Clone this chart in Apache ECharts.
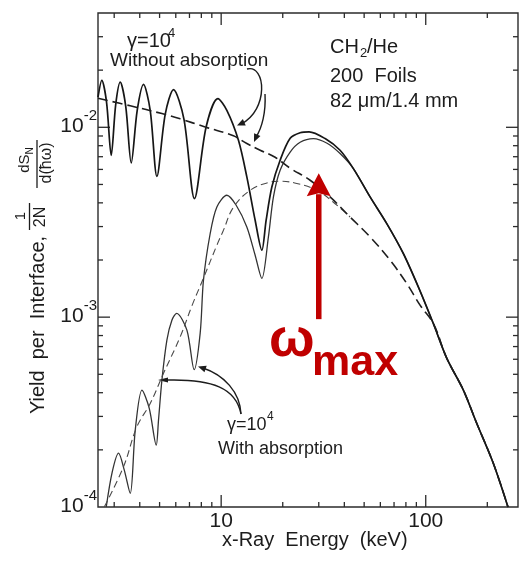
<!DOCTYPE html>
<html>
<head>
<meta charset="utf-8">
<script src="https://cdn.jsdelivr.net/npm/echarts@6/dist/echarts.min.js"></script>
<style>
html, body { margin: 0; padding: 0; background: #fff; }
#chart { width: 519px; height: 566px; }
</style>
</head>
<body>
<div id="chart"></div>
<script>
// Axis limits: x-ray energy (keV) and yield per interface
const energyMin = 2.5, energyMax = 282.5;
const yieldMin = 1e-4, yieldMax = 0.04;

// Tick positions on the log axes
const energyMajorTicks = [10, 100];
const energyMinorTicks = [3, 4, 5, 6, 7, 8, 9, 20, 30, 40, 50, 60, 70, 80, 90, 200];
const yieldMajorTicks = [1e-3, 1e-2];
const yieldMinorTicks = [2e-4, 3e-4, 4e-4, 5e-4, 6e-4, 7e-4, 8e-4, 9e-4,
                         2e-3, 3e-3, 4e-3, 5e-3, 6e-3, 7e-3, 8e-3, 9e-3, 2e-2, 3e-2];

// gamma = 1e4, without absorption: full interference yield (solid)
const energyNoAbs = [2.5, 2.61, 2.753, 2.901, 3.052, 3.211, 3.416, 3.634, 3.887, 4.173,
  4.499, 4.852, 5.327, 5.848, 6.58, 7.405, 8.446, 9.636, 10.66, 12.15,
  13.35, 14.66, 15.81, 16.59, 17.69, 19.42, 21.74, 24.32, 26.91, 32.22,
  38.13, 44.29, 53.45, 64.5, 77.7, 92.0, 108.9, 126.6, 152.7, 177.5, 213.9, 252.4];
const yieldNoAbs = [0.0144, 0.01768, 0.01354, 0.00712, 0.01322, 0.01731, 0.0129, 0.00649, 0.01229, 0.01684,
  0.01229, 0.00552, 0.01171, 0.01579, 0.01102, 0.00421, 0.01006, 0.01416, 0.01229, 0.00854,
  0.00548, 0.00324, 0.002253, 0.00324, 0.00485, 0.00671, 0.00875, 0.00936, 0.00947, 0.00872,
  0.00757, 0.00606, 0.0043, 0.00311, 0.002164, 0.001443, 0.000926, 0.000609, 0.000413, 0.000276, 0.00017, 0.0001];

// gamma = 1e4, without absorption: averaged yield (dashed)
const energyNoAbsMean = [2.5, 3.593, 5.133, 6.306, 8.351, 11.48, 13.35, 15.51, 18.36, 21.74,
  27.22, 34.07, 42.67, 53.45, 66.93, 80.77, 93.8, 108.9, 126.6, 152.7, 177.5, 213.9, 252.4];
const yieldNoAbsMean = [0.01421, 0.01298, 0.01181, 0.01108, 0.01004, 0.00902, 0.00821, 0.00757, 0.00695, 0.00609,
  0.00526, 0.0043, 0.00337, 0.002647, 0.001995, 0.001504, 0.001157, 0.000926, 0.000609, 0.000413, 0.000276, 0.00017, 0.0001];

// gamma = 1e4, with absorption: full interference yield (solid)
const energyAbs = [2.743, 2.935, 3.15, 3.358, 3.593, 3.802, 4.1, 4.449, 4.815, 4.94,
  5.133, 5.429, 5.743, 6.06, 6.8, 7.38, 7.897, 8.194, 8.838, 9.528,
  10.66, 11.84, 13.35, 14.66, 15.81, 17.02, 18.01, 19.42, 21.74, 24.32,
  28.24, 32.95, 38.13, 44.29, 53.45, 64.5, 77.7, 92.0, 108.9, 126.6, 152.7, 177.5, 213.9, 252.4];
const yieldAbs = [0.0001, 0.000153, 0.000192, 0.000157, 0.000118, 0.000254, 0.000413, 0.000332, 0.000212, 0.000287,
  0.000466, 0.000757, 0.000964, 0.001046, 0.000854, 0.000529, 0.000824, 0.001566, 0.002758, 0.003806,
  0.004386, 0.003886, 0.002987, 0.00212, 0.0016, 0.002647, 0.0043, 0.00594, 0.00741, 0.00834,
  0.00872, 0.00824, 0.00727, 0.00606, 0.0043, 0.00311, 0.002164, 0.001443, 0.000926, 0.000609, 0.000413, 0.000276, 0.00017, 0.0001];

// gamma = 1e4, with absorption: averaged yield (dashed), joins the upper envelope near 43 keV
const energyAbsMean = [2.682, 3.332, 3.875, 4.499, 5.226, 6.306, 7.216, 8.194, 9.528, 10.26,
  11.48, 13.86, 16.72, 19.42, 23.43, 29.35, 35.37, 42.67];
const yieldAbsMean = [0.0001, 0.000163, 0.000265, 0.000351, 0.000506, 0.000788, 0.001157, 0.001605, 0.002393, 0.00287,
  0.00379, 0.00466, 0.00509, 0.0052, 0.00506, 0.00466, 0.00403, 0.00337];

// omega_max marker: energy and the vertical extent of the arrow
const omegaMaxEnergy = 30;
const omegaArrowFrom = 0.000976;
const omegaArrowTo = 0.00573;

const FONT = '"Liberation Sans", Arial, sans-serif';
const INK = '#1c1c1c';
const RED = '#C00000';

const pairs = (xs, ys) => xs.map((x, i) => [x, ys[i]]);
const isDecade = v => Math.abs(Math.log10(v) - Math.round(Math.log10(v))) < 1e-6;

// tick records: [energy, yield, isMajor, 0 = energy tick / 1 = yield tick]
const tickData = [];
energyMajorTicks.forEach(v => tickData.push([v, yieldMin, 1, 0]));
energyMinorTicks.forEach(v => tickData.push([v, yieldMin, 0, 0]));
yieldMajorTicks.forEach(v => tickData.push([energyMin, v, 1, 1]));
yieldMinorTicks.forEach(v => tickData.push([energyMin, v, 0, 1]));

function text(str, x, baseline, size, extra) {
  const el = {
    type: 'text', x: x, y: baseline - 0.32 * size, silent: true,
    style: {
      text: str, fill: INK, font: size + 'px ' + FONT,
      align: 'left', verticalAlign: 'middle', textAlign: 'left', textVerticalAlign: 'middle'
    }
  };
  return Object.assign(el, extra || {});
}
function vtext(str, cx, cy, size, extra) {
  return {
    type: 'text', x: cx, y: cy, rotation: Math.PI / 2, silent: true,
    style: Object.assign({
      text: str, fill: INK, font: size + 'px ' + FONT,
      align: 'center', verticalAlign: 'middle', textAlign: 'center', textVerticalAlign: 'middle'
    }, extra || {})
  };
}
function curve(x1, y1, c1x, c1y, c2x, c2y, x2, y2) {
  return { type: 'bezierCurve', silent: true,
    shape: { x1: x1, y1: y1, cpx1: c1x, cpy1: c1y, cpx2: c2x, cpy2: c2y, x2: x2, y2: y2 },
    style: { stroke: INK, lineWidth: 1.4, fill: null } };
}
function head(tx, ty, fx, fy, len, half) {
  const a = Math.atan2(ty - fy, tx - fx);
  const bx = tx - len * Math.cos(a), by = ty - len * Math.sin(a);
  const nx = -Math.sin(a) * half, ny = Math.cos(a) * half;
  return { type: 'polygon', silent: true,
    shape: { points: [[tx, ty], [bx + nx, by + ny], [bx - nx, by - ny]] },
    style: { fill: INK } };
}
function bar(x, y1, y2) {
  return { type: 'line', silent: true, shape: { x1: x, y1: y1, x2: x, y2: y2 },
    style: { stroke: INK, lineWidth: 1.3 } };
}
function redText(str, x, baseline, size) {
  return {
    type: 'text', x: x, y: baseline - 0.32 * size, silent: true,
    style: {
      text: str, fill: RED, font: 'bold ' + size + 'px ' + FONT,
      align: 'left', verticalAlign: 'middle', textAlign: 'left', textVerticalAlign: 'middle'
    }
  };
}

const chart = echarts.init(document.getElementById('chart'), null, { renderer: 'canvas' });

chart.setOption({
  animation: false,
  backgroundColor: '#ffffff',
  grid: {
    left: 98, top: 13, right: 1, bottom: 59,
    show: true, borderColor: '#2b2b2b', borderWidth: 1.4,
    containLabel: false, outerBoundsMode: 'none'
  },
  xAxis: {
    type: 'log', logBase: 10, min: energyMin, max: energyMax,
    axisLine: { show: false }, axisTick: { show: false }, splitLine: { show: false },
    axisLabel: {
      margin: 4, color: INK, fontFamily: FONT, fontSize: 21,
      showMinLabel: false, showMaxLabel: false,
      formatter: v => isDecade(v) ? String(Math.round(v)) : ''
    }
  },
  yAxis: {
    type: 'log', logBase: 10, min: yieldMin, max: yieldMax,
    axisLine: { show: false }, axisTick: { show: false }, splitLine: { show: false },
    axisLabel: {
      margin: 1, showMaxLabel: false, padding: [0, 0, 9, 0],
      formatter: v => isDecade(v) ? '{b|10}{s|' + Math.round(Math.log10(v)) + '}' : '',
      rich: {
        b: { fontSize: 21, fontFamily: FONT, color: INK, lineHeight: 28, verticalAlign: 'bottom' },
        s: { fontSize: 15, fontFamily: FONT, color: INK, lineHeight: 15, verticalAlign: 'top' }
      }
    }
  },
  series: [
    {
      // axis ticks on all four sides, pointing inward
      type: 'custom', coordinateSystem: 'cartesian2d', silent: true, clip: false, z: 1,
      encode: { x: 0, y: 1 },
      data: tickData,
      renderItem: function (params, api) {
        const major = api.value(2) === 1, kind = api.value(3);
        const len = major ? 12 : 5;
        const style = { stroke: '#2b2b2b', lineWidth: 1.3 };
        if (kind === 0) {
          const v = api.value(0);
          const b = api.coord([v, yieldMin]), t = api.coord([v, yieldMax]);
          return { type: 'group', children: [
            { type: 'line', shape: { x1: b[0], y1: b[1], x2: b[0], y2: b[1] - len }, style: style },
            { type: 'line', shape: { x1: t[0], y1: t[1], x2: t[0], y2: t[1] + len }, style: style }
          ] };
        }
        const w = api.value(1);
        const l = api.coord([energyMin, w]), r = api.coord([energyMax, w]);
        return { type: 'group', children: [
          { type: 'line', shape: { x1: l[0], y1: l[1], x2: l[0] + len, y2: l[1] }, style: style },
          { type: 'line', shape: { x1: r[0], y1: r[1], x2: r[0] - len, y2: r[1] }, style: style }
        ] };
      }
    },
    {
      name: 'Without absorption', type: 'line', data: pairs(energyNoAbs, yieldNoAbs),
      symbol: 'none', smooth: 0.3, z: 3,
      lineStyle: { color: '#161616', width: 1.7 }
    },
    {
      name: 'Without absorption (mean)', type: 'line', data: pairs(energyNoAbsMean, yieldNoAbsMean),
      symbol: 'none', smooth: 0.4, z: 3,
      lineStyle: { color: '#1e1e1e', width: 1.6, type: [10, 5] }
    },
    {
      name: 'With absorption', type: 'line', data: pairs(energyAbs, yieldAbs),
      symbol: 'none', smooth: 0.3, z: 2,
      lineStyle: { color: '#333333', width: 1.3 }
    },
    {
      name: 'With absorption (mean)', type: 'line', data: pairs(energyAbsMean, yieldAbsMean),
      symbol: 'none', smooth: 0.4, z: 2,
      lineStyle: { color: '#4a4a4a', width: 1.1, type: [7, 4] }
    },
    {
      // red arrow marking the yield maximum
      type: 'custom', coordinateSystem: 'cartesian2d', silent: true, clip: false, z: 6,
      encode: { x: 0, y: [1, 2] },
      data: [[omegaMaxEnergy, omegaArrowFrom, omegaArrowTo]],
      renderItem: function (params, api) {
        const base = api.coord([api.value(0), api.value(1)]);
        const tip = api.coord([api.value(0), api.value(2)]);
        const headLen = 23, headHalf = 12, shaft = 5.5;
        return { type: 'group', children: [
          { type: 'rect', shape: { x: base[0] - shaft / 2, y: tip[1] + headLen - 2, width: shaft, height: base[1] - tip[1] - headLen + 2 },
            style: { fill: RED } },
          { type: 'polygon', shape: { points: [[tip[0], tip[1]], [tip[0] - headHalf, tip[1] + headLen], [tip[0], tip[1] + headLen - 3], [tip[0] + headHalf, tip[1] + headLen]] },
            style: { fill: RED } }
        ] };
      }
    }
  ],
  graphic: { elements: [
    // upper label and its pointers
    text('γ=10', 127, 48, 20),
    text('4', 168, 38, 13),
    text('Without absorption', 110, 67, 19),
    curve(247, 69, 266, 64, 269, 110, 241, 124),
    head(237, 125.5, 247, 121, 8, 3.5),
    curve(265, 94, 266, 112, 262, 128, 256, 137),
    head(254, 142, 258, 133, 8, 3.5),

    // lower label and its pointers
    text('γ=10', 227, 431, 18),
    text('4', 267, 421, 12),
    text('With absorption', 218, 455, 18),
    curve(241, 414, 240, 392, 224, 375, 203, 368),
    head(198, 366.5, 207, 369.5, 8, 3.5),
    curve(241, 414, 236, 388, 212, 379, 168, 380),
    head(158, 380, 168, 380, 10, 2.5),

    // foil stack description
    text('CH', 330, 54, 20),
    text('2', 360, 58, 13),
    text('/He', 367, 54, 20),
    text('200  Foils', 330, 83, 20),
    text('82 μm/1.4 mm', 330, 108, 20),

    // axis titles
    text('x-Ray  Energy  (keV)', 222, 547, 20),
    vtext('Yield  per  Interface,', 38.5, 325, 20),
    vtext('1', 21, 216, 15),
    bar(29.5, 203, 230),
    vtext('2N', 41, 217, 16),
    vtext('{a|dS}{b|N}', 26, 160, 15, {
      rich: { a: { fontSize: 15, fontFamily: FONT, color: INK, lineHeight: 18, verticalAlign: 'top' },
              b: { fontSize: 10, fontFamily: FONT, color: INK, lineHeight: 10, verticalAlign: 'bottom' } }
    }),
    bar(37, 140, 188),
    vtext('d(ħω)', 47, 163, 16),

    // omega_max
    redText('ω', 269, 358, 54),
    redText('max', 312, 377, 43)
  ] }
});
</script>
</body>
</html>
